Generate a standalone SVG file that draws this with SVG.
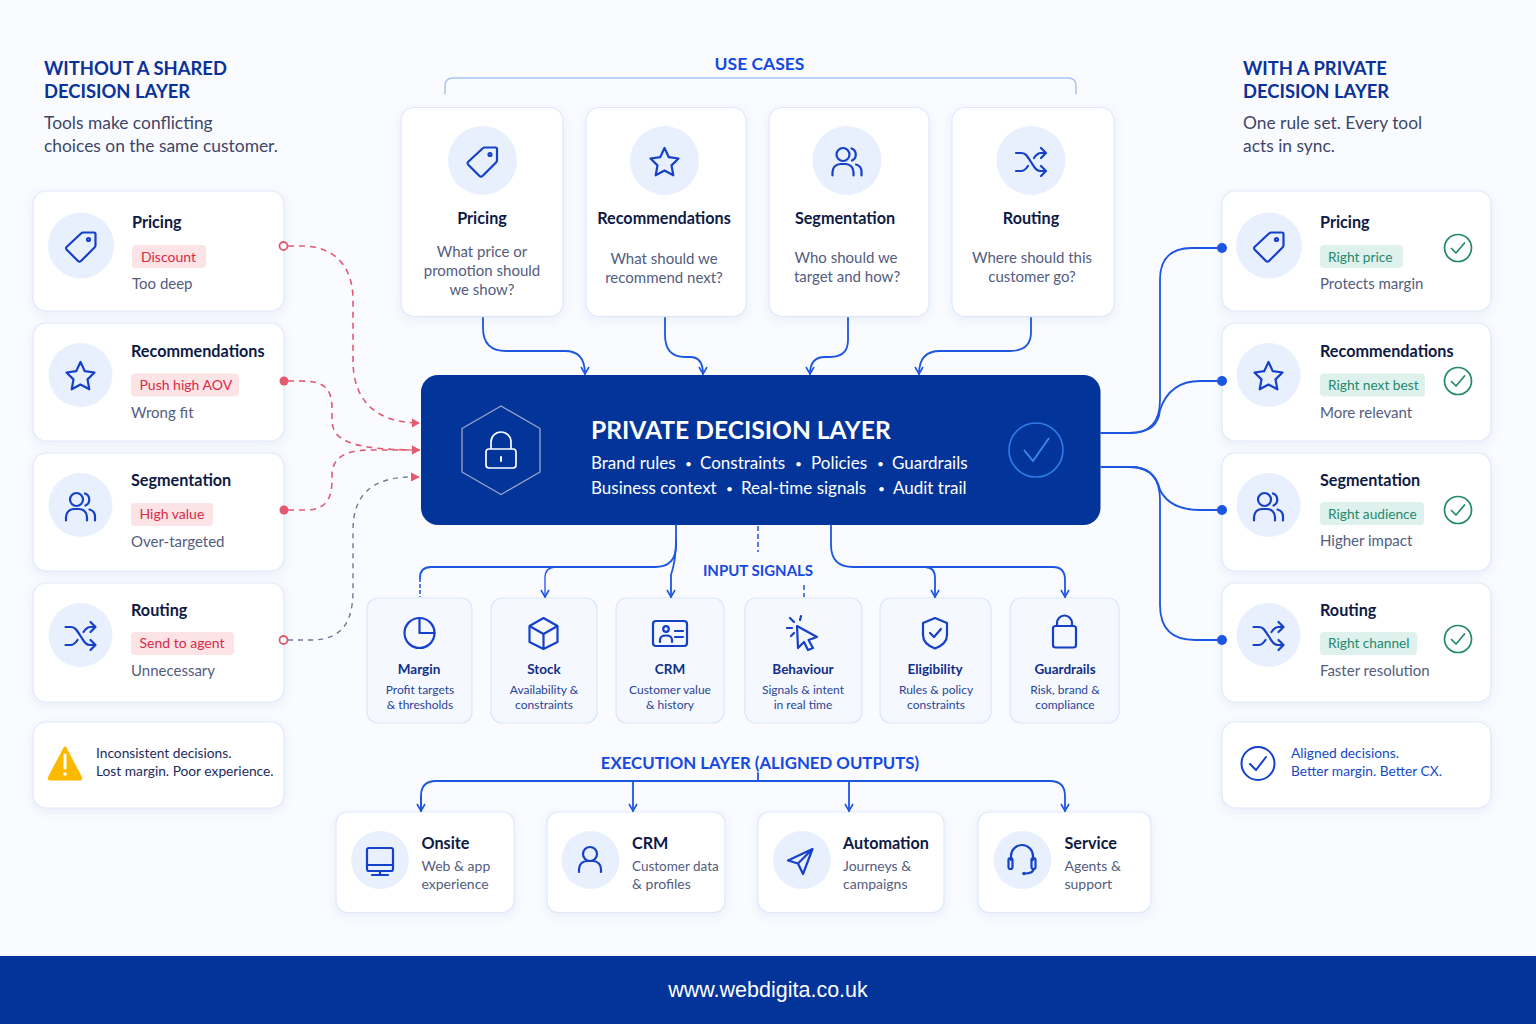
<svg xmlns="http://www.w3.org/2000/svg" width="1536" height="1024" viewBox="0 0 1536 1024">
<style>
text{font-family:"Lato","Liberation Sans",sans-serif}
.card{fill:#fff;stroke:#dfe8fa;stroke-width:1.2;filter:url(#sh)}
.sig{fill:#f5f8ff;stroke:#dbe6fb;stroke-width:1.2}
.disc{fill:#e9f0fd}
.ic{fill:none;stroke:#1540c8;stroke-width:2.2;stroke-linecap:round;stroke-linejoin:round}
.ti{font-size:16.2px;font-weight:700;fill:#0e1a44}
.tis{font-size:13.5px;font-weight:700;fill:#0f2f88}
.sub{font-size:15px;fill:#535d7e}
.s2{font-size:14px;fill:#535d7e}
.q{font-size:15px;fill:#535d7e;text-anchor:middle}
.sm{font-size:12px;fill:#2a4596;text-anchor:middle}
.hd{font-size:18.4px;font-weight:700;fill:#0b3299}
.desc{font-size:17.4px;fill:#3d4768}
.sec{font-size:16.8px;font-weight:700;fill:#1549e0;text-anchor:middle}
.rt{font-size:14px;fill:#d92b45}
.gt{font-size:13.7px;fill:#23896c}
.rb{fill:#fbe3e6}.gb{fill:#dff1ec}
.foot{font-size:13.75px;fill:#1d2c5e}
.w{fill:#fff;font-size:17px}
.dot{fill:#fff;font-size:12px}
.bl{fill:none;stroke:#1d56e0;stroke-width:1.8;stroke-linecap:round;stroke-linejoin:round}
.rd{fill:none;stroke:#e25a70;stroke-width:1.6;stroke-dasharray:6 5}
.gr{fill:none;stroke:#6e7a96;stroke-width:1.4;stroke-dasharray:5 5}
.ok{fill:none;stroke:#23896c;stroke-width:1.7;stroke-linecap:round;stroke-linejoin:round}
</style>
<defs>
<filter id="sh" x="-10%" y="-10%" width="120%" height="125%"><feDropShadow dx="0" dy="3" stdDeviation="4" flood-color="#3a5fc0" flood-opacity="0.09"/></filter>
<marker id="ab" viewBox="0 0 10 10" refX="9" refY="5" markerWidth="10" markerHeight="10" markerUnits="userSpaceOnUse" orient="auto"><path d="M2 1L9 5L2 9" fill="none" stroke="#1d56e0" stroke-width="1.6"/></marker>
<marker id="ar" viewBox="0 0 10 10" refX="9" refY="5" markerWidth="10" markerHeight="10" markerUnits="userSpaceOnUse" orient="auto"><path d="M1 0.500L9 5L1 9.500Z" fill="#e25a70"/></marker>
<symbol id="tag" viewBox="-20 -20 40 40" overflow="visible"><path class="ic" d="M-3 15L-14.500 3.500Q-15.500 2 -14.500 1L0 -12.500Q1 -13.500 2.500 -13.500L13 -13.500Q14.500 -13.500 14.500 -12L14.500 -1Q14.500 .5 13.500 1.500L0 15Q-1.500 16.500 -3 15Z"/><circle class="ic" cx="7.500" cy="-6.500" r="1.500"/></symbol>
<symbol id="star" viewBox="-20 -20 40 40" overflow="visible"><path class="ic" d="M0 -14L4.300 -4.800L14 -3.500L7 3.400L8.800 13.300L0 8.500L-8.800 13.300L-7 3.400L-14 -3.500L-4.300 -4.800Z"/></symbol>
<symbol id="people" viewBox="-20 -20 40 40" overflow="visible"><circle class="ic" cx="-4" cy="-6.500" r="6.500"/><path class="ic" d="M-14.500 14.500V11A8 8 0 0 1 -6.500 3H-1.500A8 8 0 0 1 6.500 11V14.500"/><path class="ic" d="M4.500 -12.500A6.500 6.500 0 0 1 5 -.5M9 3.500A7.500 7.500 0 0 1 14.500 10.500V14.500"/></symbol>
<symbol id="shuf" viewBox="-20 -20 40 40" overflow="visible"><path class="ic" d="M-15 -9H-10C-5 -9 -4 -6 0 0S5 9 10 9H15M-15 9H-10C-7 9 -5 7 -3 4M3 -4C5 -7 7 -9 10 -9H15M10 -14L15 -9L10 -4M10 4L15 9L10 14"/></symbol>
<symbol id="chk" viewBox="-15 -15 30 30" overflow="visible"><circle class="ok" r="13.500"/><path class="ok" d="M-6.500 .5L-2 5L6.500 -5"/></symbol>
</defs>

<rect width="1536" height="1024" fill="#fafbff"/>

<g id="left-heading"><text class="hd" x="44" y="75">WITHOUT A SHARED</text><text class="hd" x="44" y="98">DECISION LAYER</text>
<text class="desc" x="44" y="129">Tools make conflicting</text><text class="desc" x="44" y="152">choices on the same customer.</text></g>
<g id="right-heading"><text class="hd" x="1243" y="75">WITH A PRIVATE</text><text class="hd" x="1243" y="98">DECISION LAYER</text>
<text class="desc" x="1243" y="129">One rule set. Every tool</text><text class="desc" x="1243" y="152">acts in sync.</text></g>

<g id="use-cases-label"><text class="sec" x="759.500" y="70" style="font-size:17.500px">USE CASES</text></g>

<g id="uc-pricing"><rect class="card" x="401" y="107.500" width="162" height="209" rx="13"/><circle class="disc" cx="482.500" cy="160.500" r="34.500"/><use href="#tag" x="462.500" y="141" width="40" height="40"/><text class="ti" x="482" y="224" text-anchor="middle">Pricing</text><text class="q" x="482" y="257">What price or</text><text class="q" x="482" y="276">promotion should</text><text class="q" x="482" y="295">we show?</text></g>
<g id="uc-recommendations"><rect class="card" x="586" y="107.500" width="160" height="209" rx="13"/><circle class="disc" cx="664.500" cy="160.500" r="34.500"/><use href="#star" x="644.500" y="142" width="40" height="40"/><text class="ti" x="664" y="224" text-anchor="middle">Recommendations</text><text class="q" x="664" y="264">What should we</text><text class="q" x="664" y="283">recommend next?</text></g>
<g id="uc-segmentation"><rect class="card" x="769" y="107.500" width="160" height="209" rx="13"/><circle class="disc" cx="847" cy="160.500" r="34.500"/><use href="#people" x="827" y="141" width="40" height="40"/><text class="ti" x="845" y="224" text-anchor="middle">Segmentation</text><text class="q" x="846" y="263">Who should we</text><text class="q" x="847" y="282">target and how?</text></g>
<g id="uc-routing"><rect class="card" x="952" y="107.500" width="162" height="209" rx="13"/><circle class="disc" cx="1031" cy="160.500" r="34.500"/><use href="#shuf" x="1011" y="142" width="40" height="40"/><text class="ti" x="1031" y="224" text-anchor="middle">Routing</text><text class="q" x="1032" y="263">Where should this</text><text class="q" x="1032" y="282">customer go?</text></g>

<g id="bad-pricing"><rect class="card" x="33" y="191" width="251" height="120" rx="13"/><circle class="disc" cx="81" cy="245.500" r="33"/><use href="#tag" x="61" y="226" width="40" height="40"/><text class="ti" x="132" y="228">Pricing</text><rect class="rb" x="132" y="245" width="74" height="23" rx="4"/><text class="rt" x="141" y="261.500">Discount</text><text class="sub" x="132" y="289">Too deep</text></g>
<g id="bad-recommendations"><rect class="card" x="33" y="323" width="251" height="118" rx="13"/><circle class="disc" cx="80.500" cy="375" r="32"/><use href="#star" x="60.500" y="356" width="40" height="40"/><text class="ti" x="131" y="356.500">Recommendations</text><rect class="rb" x="131" y="373.500" width="108" height="23" rx="4"/><text class="rt" x="139.500" y="390">Push high AOV</text><text class="sub" x="131" y="418">Wrong fit</text></g>
<g id="bad-segmentation"><rect class="card" x="33" y="453" width="251" height="118" rx="13"/><circle class="disc" cx="80.500" cy="505" r="32"/><use href="#people" x="60.500" y="486" width="40" height="40"/><text class="ti" x="131" y="485.500">Segmentation</text><rect class="rb" x="131" y="503" width="82" height="23" rx="4"/><text class="rt" x="139.500" y="519">High value</text><text class="sub" x="131" y="547">Over-targeted</text></g>
<g id="bad-routing"><rect class="card" x="33" y="583" width="251" height="119" rx="13"/><circle class="disc" cx="80.500" cy="635" r="32"/><use href="#shuf" x="60.500" y="616" width="40" height="40"/><text class="ti" x="131" y="615.500">Routing</text><rect class="rb" x="131" y="632" width="103" height="23" rx="4"/><text class="rt" x="139.500" y="648">Send to agent</text><text class="sub" x="131" y="676">Unnecessary</text></g>
<g id="bad-note"><rect class="card" x="33" y="722" width="251" height="86" rx="13"/><path d="M65 748L80.500 777.500Q81.500 779 79.500 779H50.500Q48.500 779 49.500 777.500Z" fill="#fcb900" stroke="#fcb900" stroke-width="3" stroke-linejoin="round"/><path d="M65 755V768" stroke="#fff" stroke-width="3" stroke-linecap="round"/><circle cx="65" cy="774" r="1.800" fill="#fff"/><text class="foot" x="96" y="758">Inconsistent decisions.</text><text class="foot" x="96" y="776">Lost margin. Poor experience.</text></g>

<g id="good-pricing"><rect class="card" x="1222" y="191" width="269" height="120" rx="13"/><circle class="disc" cx="1269" cy="245.500" r="33"/><use href="#tag" x="1249" y="226" width="40" height="40"/><text class="ti" x="1320" y="228">Pricing</text><rect class="gb" x="1320" y="245" width="83" height="23" rx="4"/><text class="gt" x="1328" y="261.500">Right price</text><text class="sub" x="1320" y="289">Protects margin</text><use href="#chk" x="1443" y="233" width="30" height="30"/></g>
<g id="good-recommendations"><rect class="card" x="1222" y="323" width="269" height="118" rx="13"/><circle class="disc" cx="1268.500" cy="375" r="32"/><use href="#star" x="1248.500" y="356" width="40" height="40"/><text class="ti" x="1320" y="356.500">Recommendations</text><rect class="gb" x="1320" y="373.500" width="105" height="23" rx="4"/><text class="gt" x="1328" y="390">Right next best</text><text class="sub" x="1320" y="418">More relevant</text><use href="#chk" x="1443" y="366" width="30" height="30"/></g>
<g id="good-segmentation"><rect class="card" x="1222" y="453" width="269" height="118" rx="13"/><circle class="disc" cx="1268.500" cy="505" r="32"/><use href="#people" x="1248.500" y="486" width="40" height="40"/><text class="ti" x="1320" y="485.500">Segmentation</text><rect class="gb" x="1320" y="502" width="104" height="23" rx="4"/><text class="gt" x="1328" y="519">Right audience</text><text class="sub" x="1320" y="546">Higher impact</text><use href="#chk" x="1443" y="495" width="30" height="30"/></g>
<g id="good-routing"><rect class="card" x="1222" y="583" width="269" height="119" rx="13"/><circle class="disc" cx="1268.500" cy="635" r="32"/><use href="#shuf" x="1248.500" y="616" width="40" height="40"/><text class="ti" x="1320" y="615.500">Routing</text><rect class="gb" x="1320" y="632" width="97" height="23" rx="4"/><text class="gt" x="1328" y="648">Right channel</text><text class="sub" x="1320" y="676">Faster resolution</text><use href="#chk" x="1443" y="624" width="30" height="30"/></g>
<g id="good-note"><rect class="card" x="1222" y="722" width="269" height="86" rx="13"/><circle cx="1258" cy="763.500" r="16.500" fill="none" stroke="#1540c8" stroke-width="2"/><path d="M1250 764L1256 770L1266 757" fill="none" stroke="#1540c8" stroke-width="2" stroke-linecap="round" stroke-linejoin="round"/><text x="1291" y="758" class="foot" style="fill:#1549c8">Aligned decisions.</text><text x="1291" y="776" class="foot" style="fill:#1549c8">Better margin. Better CX.</text></g>

<g id="core"><rect x="421" y="375" width="679.500" height="150" rx="17" fill="#03349a"/>
<path d="M501 406L540 428.500V472L501 494.500L462 472V428.500Z" fill="none" stroke="#9aa6c8" stroke-width="1.300" stroke-linejoin="round"/>
<rect x="486" y="449" width="30" height="19" rx="3" fill="none" stroke="#fff" stroke-width="1.700"/><path d="M491 449V442A10 10 0 0 1 511 442V449" fill="none" stroke="#fff" stroke-width="1.700"/><path d="M501 457V461" stroke="#fff" stroke-width="2" stroke-linecap="round"/>
<text x="591" y="439" font-size="24.600" font-weight="700" fill="#fff">PRIVATE DECISION LAYER</text>
<text class="w" x="591" y="469">Brand rules</text><text class="dot" x="685" y="468">•</text><text class="w" x="700" y="469">Constraints</text><text class="dot" x="795" y="468">•</text><text class="w" x="811" y="469">Policies</text><text class="dot" x="877" y="468">•</text><text class="w" x="892" y="469">Guardrails</text>
<text class="w" x="591" y="494">Business context</text><text class="dot" x="726" y="493">•</text><text class="w" x="741" y="494">Real-time signals</text><text class="dot" x="878" y="493">•</text><text class="w" x="893" y="494">Audit trail</text>
<circle cx="1036" cy="450" r="27" fill="none" stroke="#2f7be8" stroke-width="1.600"/><path d="M1024 450L1033 461L1049 438" fill="none" stroke="#3f8af0" stroke-width="1.800"/></g>

<g id="input-label"><text class="sec" x="758" y="575.500" style="font-size:15px">INPUT SIGNALS</text></g>

<g id="sig-margin"><rect class="sig" x="367" y="598" width="105" height="125" rx="11"/><circle class="ic" cx="419.500" cy="633" r="15"/><path class="ic" d="M419.500 618V633H434.500"/><text class="tis" x="419" y="673.500" text-anchor="middle">Margin</text><text class="sm" x="420" y="694">Profit targets</text><text class="sm" x="420" y="709">&amp; thresholds</text></g>
<g id="sig-stock"><rect class="sig" x="491" y="598" width="106" height="125" rx="11"/><path class="ic" d="M543.500 618L557.500 626V642L543.500 649L529.500 642V626ZM529.500 626L543.500 634L557.500 626M543.500 634V649"/><text class="tis" x="544" y="673.500" text-anchor="middle">Stock</text><text class="sm" x="544" y="694">Availability &amp;</text><text class="sm" x="544" y="709">constraints</text></g>
<g id="sig-crm"><rect class="sig" x="616" y="598" width="108" height="125" rx="11"/><rect class="ic" x="653" y="621" width="34" height="25" rx="3"/><circle class="ic" cx="666" cy="629" r="2.800"/><path class="ic" d="M660 642V640Q660 635.500 666 635.500T672 640V642M675 631H683M675 637H683"/><text class="tis" x="670" y="673.500" text-anchor="middle">CRM</text><text class="sm" x="670" y="694">Customer value</text><text class="sm" x="670" y="709">&amp; history</text></g>
<g id="sig-behaviour"><rect class="sig" x="745" y="598" width="117" height="125" rx="11"/><path class="ic" d="M797 626L817 637L808.500 640L813 648L808 650L804 642L798 648Z"/><path class="ic" d="M794 622L790 618M800 620L801 616M792 628H787M794 633L791 636" stroke-width="1.800"/><text class="tis" x="803" y="673.500" text-anchor="middle">Behaviour</text><text class="sm" x="803" y="694">Signals &amp; intent</text><text class="sm" x="803" y="709">in real time</text></g>
<g id="sig-eligibility"><rect class="sig" x="880" y="598" width="111" height="125" rx="11"/><path class="ic" d="M935 618L947 623V635Q947 644 935 648.500Q923 644 923 635V623Z"/><path class="ic" d="M930 633L934 637L941 629"/><text class="tis" x="935" y="673.500" text-anchor="middle">Eligibility</text><text class="sm" x="936" y="694">Rules &amp; policy</text><text class="sm" x="936" y="709">constraints</text></g>
<g id="sig-guardrails"><rect class="sig" x="1010" y="598" width="109" height="125" rx="11"/><rect class="ic" x="1053" y="626" width="23" height="21.500" rx="2.500"/><path class="ic" d="M1057 626V623A7.500 7.500 0 0 1 1072 623V626"/><text class="tis" x="1065" y="673.500" text-anchor="middle">Guardrails</text><text class="sm" x="1065" y="694">Risk, brand &amp;</text><text class="sm" x="1065" y="709">compliance</text></g>

<g id="execution-label"><text class="sec" x="760" y="768.500">EXECUTION LAYER (ALIGNED OUTPUTS)</text></g>

<g id="out-onsite"><rect class="card" x="336" y="812" width="178" height="100.500" rx="11"/><circle class="disc" cx="380" cy="860" r="29"/><rect class="ic" x="367" y="848" width="26" height="23" rx="2"/><path class="ic" d="M367 865H393M380 871V875M372 875H388"/><text class="ti" x="421.500" y="848.500">Onsite</text><text class="s2" x="421.500" y="871">Web &amp; app</text><text class="s2" x="421.500" y="889">experience</text></g>
<g id="out-crm"><rect class="card" x="547" y="812" width="178" height="100.500" rx="11"/><circle class="disc" cx="590.500" cy="860" r="29"/><circle class="ic" cx="590" cy="854" r="7"/><path class="ic" d="M579 872V869A8 8 0 0 1 587 861H593A8 8 0 0 1 601 869V872"/><text class="ti" x="632" y="848.500">CRM</text><text class="s2" x="632" y="871" style="font-size:13.500px">Customer data</text><text class="s2" x="632" y="889">&amp; profiles</text></g>
<g id="out-automation"><rect class="card" x="758" y="812" width="186" height="100.500" rx="11"/><circle class="disc" cx="802" cy="860" r="29"/><path class="ic" d="M812.500 849L788 860.500L798 863.500L803 874Z M812.500 849L798 863.500"/><text class="ti" x="843" y="848.500">Automation</text><text class="s2" x="843" y="871">Journeys &amp;</text><text class="s2" x="843" y="889">campaigns</text></g>
<g id="out-service"><rect class="card" x="978" y="812" width="173" height="100.500" rx="11"/><circle class="disc" cx="1022.500" cy="860" r="29"/><path class="ic" d="M1011 860V856A11 11 0 0 1 1033 856V860"/><rect class="ic" x="1008.500" y="858" width="4" height="11" rx="2"/><rect class="ic" x="1031.500" y="858" width="4" height="11" rx="2"/><path class="ic" d="M1033.500 869Q1033.500 873 1026 873.500"/><circle cx="1024" cy="873.500" r="1.800" fill="#1540c8"/><text class="ti" x="1064.500" y="848.500">Service</text><text class="s2" x="1064.500" y="871">Agents &amp;</text><text class="s2" x="1064.500" y="889">support</text></g>

<g id="connectors">
<path class="rd" d="M288 246H302C330 246 353 262 353 300V360C353 400 375 423 420 423" marker-end="url(#ar)"/>
<path class="rd" d="M288 381H300C325 381 332 388 332 410V420C332 440 350 450 420 450" marker-end="url(#ar)"/>
<path class="rd" d="M288 510H305C325 510 332 500 332 480V475C332 458 345 450 370 450H420" marker-end="url(#ar)"/>
<path class="gr" d="M288 640H310C340 640 353 625 353 590V530C353 495 372 477 412 477"/>
<path d="M411 472.500L420 477L411 481.500Z" fill="#e25a70"/>
<circle cx="283.500" cy="246" r="4" fill="#fff" stroke="#e25a70" stroke-width="1.800"/>
<circle cx="284" cy="381" r="4.500" fill="#e25a70"/>
<circle cx="284" cy="510" r="4.500" fill="#e25a70"/>
<circle cx="283.500" cy="640" r="4" fill="#fff" stroke="#e25a70" stroke-width="1.800"/>

<path d="M445 94V86Q445 78 453 78H1068Q1076 78 1076 86V94" fill="none" stroke="#a9c3f5" stroke-width="1.500"/>

<path class="bl" d="M483 318V328Q483 351 506 351H565Q585 351 585 374" marker-end="url(#ab)"/>
<path class="bl" d="M665 318V335Q665 357 685 357H690Q703 357 703 374" marker-end="url(#ab)"/>
<path class="bl" d="M848 318V340Q848 357 830 357H825Q810 357 810 374" marker-end="url(#ab)"/>
<path class="bl" d="M1031 318V332Q1031 351 1010 351H940Q919 351 919 374" marker-end="url(#ab)"/>

<path class="bl" d="M1101 433H1130Q1160 433 1160 400V280Q1160 248 1192 248H1222"/>
<path class="bl" d="M1130 433Q1158 433 1160 410C1165 395 1175 381 1200 381H1222"/>
<path class="bl" d="M1101 467H1130Q1155 467 1160 490C1165 500 1175 510 1200 510H1222"/>
<path class="bl" d="M1130 467Q1160 467 1160 500V605Q1160 640 1195 640H1222"/>
<circle cx="1222" cy="248" r="5" fill="#1d56e0"/><circle cx="1222" cy="381" r="5" fill="#1d56e0"/><circle cx="1222" cy="510" r="5" fill="#1d56e0"/><circle cx="1222" cy="640" r="5" fill="#1d56e0"/>

<path class="bl" d="M676 525V545Q676 567 655 567H431Q420 567 420 578"/>
<path d="M420 578V597" fill="none" stroke="#1d56e0" stroke-width="1.500" stroke-dasharray="4 2"/>
<path class="bl" style="stroke-width:1.300" d="M556 567Q545 567 545 578V597" marker-end="url(#ab)"/>
<path class="bl" d="M676 540Q676 560 671 575V597" marker-end="url(#ab)"/>
<path class="bl" d="M831 525V545Q831 567 853 567H1053Q1065 567 1065 580V597" marker-end="url(#ab)"/>
<path class="bl" d="M925 567Q935 567 935 578V597" marker-end="url(#ab)"/>
<path d="M758 526V552M804 585V597" fill="none" stroke="#1d56e0" stroke-width="1.500" stroke-dasharray="5 3"/>

<path class="bl" d="M758 773V781"/>
<path class="bl" d="M421 811V796Q421 781 436 781H1050Q1065 781 1065 796V811" marker-end="url(#ab)"/>
<path class="bl" d="M421 796V811" marker-end="url(#ab)"/>
<path class="bl" d="M633 781V811" marker-end="url(#ab)"/>
<path class="bl" d="M849 781V811" marker-end="url(#ab)"/>
</g>

<g id="footer"><rect y="956" width="1536" height="68" fill="#03349a"/><text x="768" y="997" fill="#fff" font-size="21.500" text-anchor="middle" style="font-family:'Liberation Sans',sans-serif">www.webdigita.co.uk</text></g>
</svg>
